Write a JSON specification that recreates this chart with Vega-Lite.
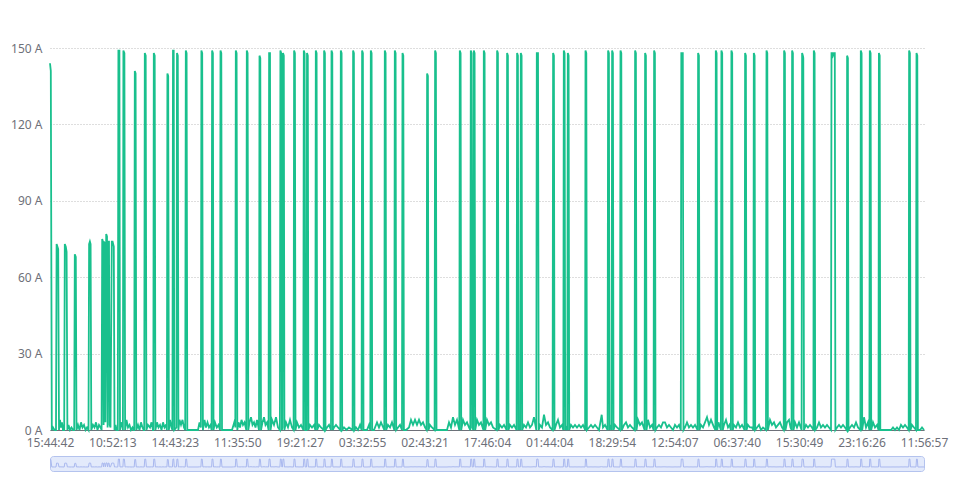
{
"$schema": "https://vega.github.io/schema/vega-lite/v6.json",
"padding": {"left": 10, "top": 42, "right": 6, "bottom": 8},
"background": "white",
"bounds": "flush",
"spacing": 26,
"config": {"font": "Noto Sans", "axis": {"labelFont": "Noto Sans", "labelFontSize": 12, "labelColor": "#6e7079", "title": null}},
"datasets": {"s": [
{"t":0,"a":144},{"t":0.8,"a":141},{"t":1.8,"a":0},{"t":3,"a":1},{"t":4.5,"a":0},
{"t":6,"a":0},{"t":6.6,"a":73},{"t":7.4,"a":72},{"t":8.2,"a":71},{"t":9,"a":0},{"t":10,"a":4},{"t":11,"a":1},{"t":12,"a":3},{"t":13,"a":0},
{"t":14.2,"a":0},{"t":14.8,"a":73},{"t":15.8,"a":72},{"t":16.6,"a":70},{"t":17.4,"a":0},{"t":18.5,"a":2},{"t":20,"a":0},{"t":21.5,"a":1},{"t":23,"a":0},
{"t":24.2,"a":0},{"t":24.8,"a":69},{"t":25.8,"a":68},{"t":26.5,"a":0},{"t":28,"a":2},{"t":29.5,"a":0},{"t":31,"a":3},{"t":32.5,"a":1},{"t":34,"a":2},{"t":35.5,"a":0},{"t":37,"a":1},
{"t":38.5,"a":0},{"t":39.1,"a":73},{"t":39.9,"a":74},{"t":40.6,"a":73},{"t":41.3,"a":0},{"t":43,"a":2},{"t":44.5,"a":1},{"t":46,"a":3},{"t":47.5,"a":0},{"t":49,"a":2},{"t":50.5,"a":1},
{"t":51.6,"a":0},{"t":52.2,"a":75},{"t":53,"a":74},{"t":53.6,"a":2},{"t":54,"a":74},{"t":54.8,"a":73},{"t":55.4,"a":3},{"t":56.2,"a":77},{"t":57,"a":76},{"t":57.6,"a":1},{"t":58.3,"a":74},{"t":59,"a":74},{"t":59.6,"a":2},{"t":60.5,"a":1},{"t":61.8,"a":74},{"t":62.6,"a":74},{"t":63.2,"a":73},{"t":63.8,"a":72},{"t":64.5,"a":0},{"t":65.5,"a":2},{"t":66.5,"a":0},
{"t":67.8,"a":0},{"t":68.4,"a":149},{"t":69.4,"a":149},{"t":70,"a":0},{"t":71,"a":3},{"t":72.5,"a":1},
{"t":72.9,"a":0},{"t":73.4,"a":149},{"t":74.4,"a":148},{"t":75.1,"a":0},{"t":76.5,"a":4},{"t":78,"a":1},{"t":79.5,"a":2},{"t":81,"a":0},{"t":82.5,"a":1},{"t":83.5,"a":0},
{"t":84.2,"a":0},{"t":84.8,"a":141},{"t":85.6,"a":140},{"t":86.3,"a":0},{"t":88,"a":2},{"t":89.5,"a":0},{"t":91,"a":3},{"t":92.5,"a":1},{"t":93.7,"a":0},
{"t":94.2,"a":0},{"t":94.8,"a":148},{"t":95.7,"a":147},{"t":96.4,"a":0},{"t":98,"a":2},{"t":100,"a":1},{"t":101.5,"a":3},{"t":103,"a":0},
{"t":103.3,"a":0},{"t":103.8,"a":148},{"t":104.7,"a":147},{"t":105.4,"a":0},{"t":107,"a":3},{"t":108.5,"a":1},{"t":110,"a":2},{"t":111.5,"a":0},{"t":113,"a":3},{"t":114.5,"a":1},{"t":116,"a":2},
{"t":116.9,"a":0},{"t":117.4,"a":140},{"t":118.2,"a":139},{"t":118.9,"a":0},{"t":120,"a":4},{"t":121.5,"a":1},
{"t":122.4,"a":0},{"t":123,"a":149},{"t":123.7,"a":149},{"t":124.3,"a":0},
{"t":126.4,"a":1},{"t":127,"a":148},{"t":127.8,"a":147},{"t":128.4,"a":0},{"t":129.5,"a":4},{"t":131,"a":2},{"t":132.5,"a":4},{"t":134,"a":1},
{"t":135.2,"a":0},{"t":135.8,"a":149},{"t":136.6,"a":148},{"t":137.3,"a":0},{"t":138.5,"a":0},{"t":141,"a":0},{"t":145,"a":0},{"t":148,"a":0},{"t":149.5,"a":3},
{"t":150.9,"a":1},{"t":151.4,"a":149},{"t":152.2,"a":148},{"t":152.9,"a":0},
{"t":154.5,"a":4},{"t":156,"a":1},{"t":157.5,"a":3},{"t":159,"a":1},{"t":160.5,"a":2},{"t":161.6,"a":0},{"t":162.1,"a":149},{"t":162.9,"a":148},{"t":163.5,"a":0},
{"t":165,"a":3},{"t":166.8,"a":1},{"t":168.5,"a":2},{"t":170,"a":0},{"t":170.5,"a":149},{"t":171.3,"a":148},{"t":172,"a":0},{"t":174,"a":0},{"t":178,"a":0},{"t":182,"a":0},{"t":183.5,"a":2},{"t":185,"a":4},
{"t":185.3,"a":1},{"t":185.8,"a":149},{"t":186.6,"a":148},{"t":187.3,"a":0},{"t":188.5,"a":3},{"t":190,"a":1},{"t":191.5,"a":4},{"t":193,"a":2},{"t":194.5,"a":3},{"t":196.3,"a":0},
{"t":196.8,"a":149},{"t":197.6,"a":148},{"t":198.3,"a":0},{"t":199.5,"a":3},{"t":201,"a":5},{"t":202.5,"a":2},{"t":204,"a":3},{"t":205.5,"a":1},{"t":207,"a":4},{"t":209,"a":0},
{"t":209.5,"a":147},{"t":210.3,"a":146},{"t":211,"a":0},{"t":212.5,"a":3},{"t":214,"a":5},{"t":215.5,"a":2},{"t":217,"a":3},{"t":218.6,"a":0},
{"t":219.1,"a":148},{"t":220,"a":148},{"t":220.6,"a":0},{"t":222,"a":4},{"t":224,"a":2},{"t":226,"a":5},{"t":228,"a":1},{"t":229.9,"a":0},
{"t":230.4,"a":149},{"t":231.2,"a":148},{"t":231.9,"a":0},{"t":232.4,"a":1},{"t":233,"a":148},{"t":233.8,"a":147},{"t":234.4,"a":0},
{"t":236,"a":3},{"t":238,"a":1},{"t":240,"a":4},{"t":242,"a":1},{"t":243.6,"a":0},{"t":244.1,"a":149},{"t":244.9,"a":148},{"t":245.5,"a":0},
{"t":247,"a":3},{"t":249,"a":1},{"t":251,"a":2},{"t":253.3,"a":0},{"t":253.8,"a":149},{"t":254.6,"a":148},{"t":255.2,"a":0},
{"t":256.5,"a":0},{"t":257,"a":148},{"t":257.8,"a":147},{"t":258.4,"a":0},{"t":260,"a":2},{"t":262,"a":1},{"t":264,"a":2},{"t":265.3,"a":0},
{"t":265.8,"a":149},{"t":266.6,"a":148},{"t":267.2,"a":0},{"t":269,"a":2},{"t":271,"a":1},{"t":273.7,"a":0},{"t":274.1,"a":149},{"t":274.9,"a":148},{"t":275.5,"a":0},
{"t":277,"a":1},{"t":279,"a":2},{"t":281,"a":0},{"t":281.5,"a":149},{"t":282.3,"a":148},{"t":282.9,"a":0},{"t":284,"a":1},{"t":286,"a":2},{"t":288,"a":1},{"t":290.3,"a":0},
{"t":290.8,"a":149},{"t":291.6,"a":148},{"t":292.2,"a":0},{"t":294,"a":1},{"t":296.5,"a":0},{"t":299,"a":1},{"t":302.6,"a":0},
{"t":303.1,"a":149},{"t":303.9,"a":148},{"t":304.5,"a":0},{"t":306,"a":1},{"t":308,"a":0},{"t":310,"a":2},{"t":311.6,"a":0},
{"t":312.1,"a":149},{"t":312.9,"a":148},{"t":313.5,"a":0},{"t":315,"a":0},{"t":317,"a":0},{"t":319,"a":2},{"t":320.3,"a":0},
{"t":320.8,"a":149},{"t":321.6,"a":148},{"t":322.2,"a":0},{"t":324,"a":0},{"t":327,"a":3},{"t":329,"a":1},{"t":331,"a":3},{"t":334.3,"a":0},
{"t":334.8,"a":149},{"t":335.6,"a":148},{"t":336.2,"a":0},{"t":338,"a":2},{"t":340,"a":1},{"t":342,"a":3},{"t":344.3,"a":0},
{"t":344.8,"a":149},{"t":345.6,"a":148},{"t":346.2,"a":0},{"t":348,"a":1},{"t":350,"a":2},{"t":352,"a":0},
{"t":352.5,"a":148},{"t":353.3,"a":147},{"t":353.9,"a":0},{"t":356,"a":0},{"t":359,"a":1},{"t":361,"a":4},{"t":363,"a":2},{"t":365,"a":4},{"t":367,"a":2},{"t":369,"a":4},{"t":371,"a":2},{"t":373,"a":3},{"t":375,"a":1},{"t":376.6,"a":0},
{"t":377.1,"a":140},{"t":377.9,"a":139},{"t":378.5,"a":0},{"t":380,"a":2},{"t":382,"a":1},{"t":384.6,"a":0},
{"t":385.1,"a":149},{"t":385.9,"a":148},{"t":386.5,"a":0},{"t":389,"a":0},{"t":393,"a":0},{"t":397,"a":0},{"t":399,"a":3},{"t":401,"a":1},{"t":403,"a":5},{"t":405,"a":2},{"t":407,"a":4},{"t":409.3,"a":0},
{"t":409.8,"a":149},{"t":410.6,"a":148},{"t":411.2,"a":0},{"t":413,"a":4},{"t":415,"a":2},{"t":417,"a":3},{"t":419,"a":1},{"t":420.3,"a":0},
{"t":420.8,"a":149},{"t":421.6,"a":148},{"t":422.2,"a":1},{"t":423.3,"a":0},{"t":423.8,"a":149},{"t":424.6,"a":148},{"t":425.2,"a":0},
{"t":427,"a":4},{"t":429,"a":2},{"t":431,"a":3},{"t":433.4,"a":0},{"t":433.8,"a":149},{"t":434.6,"a":148},{"t":435.2,"a":0},
{"t":437,"a":4},{"t":439,"a":2},{"t":441,"a":3},{"t":443,"a":1},{"t":446.6,"a":0},{"t":447.1,"a":149},{"t":447.9,"a":148},{"t":448.5,"a":0},
{"t":450,"a":2},{"t":452,"a":1},{"t":454,"a":2},{"t":456.6,"a":0},{"t":457.1,"a":148},{"t":457.9,"a":147},{"t":458.5,"a":0},
{"t":460,"a":2},{"t":462,"a":1},{"t":464,"a":2},{"t":466.6,"a":0},{"t":467.1,"a":148},{"t":467.9,"a":147},{"t":468.5,"a":0},{"t":469.5,"a":2},{"t":470.3,"a":0},{"t":470.8,"a":148},{"t":471.6,"a":147},{"t":472.2,"a":0},
{"t":474,"a":2},{"t":476,"a":1},{"t":478,"a":3},{"t":480,"a":1},{"t":482,"a":2},{"t":484,"a":5},{"t":486.3,"a":0},{"t":486.8,"a":148},{"t":488,"a":148},{"t":488.7,"a":0},
{"t":490,"a":2},{"t":492,"a":1},{"t":494,"a":6},{"t":496,"a":2},{"t":498,"a":3},{"t":500,"a":1},{"t":502.6,"a":0},{"t":503.1,"a":148},{"t":503.9,"a":147},{"t":504.5,"a":0},
{"t":506,"a":2},{"t":508,"a":4},{"t":510,"a":1},{"t":512,"a":2},{"t":513.3,"a":0},{"t":513.8,"a":149},{"t":514.6,"a":148},{"t":515.2,"a":0},{"t":516,"a":1},{"t":517.3,"a":0},{"t":517.8,"a":148},{"t":518.6,"a":147},{"t":519.2,"a":0},
{"t":521,"a":2},{"t":523,"a":1},{"t":525,"a":2},{"t":527,"a":1},{"t":529,"a":2},{"t":531,"a":1},{"t":533,"a":2},{"t":535.1,"a":0},{"t":535.5,"a":149},{"t":536.3,"a":148},{"t":536.9,"a":0},
{"t":539,"a":1},{"t":541,"a":2},{"t":543,"a":1},{"t":545,"a":2},{"t":547,"a":1},{"t":549,"a":0},{"t":551.7,"a":6},{"t":553,"a":1},{"t":555,"a":2},{"t":557.6,"a":0},
{"t":558.1,"a":149},{"t":558.9,"a":148},{"t":559.5,"a":0},{"t":560.5,"a":2},{"t":561.6,"a":0},{"t":562.1,"a":149},{"t":562.9,"a":148},{"t":563.5,"a":0},
{"t":565,"a":2},{"t":567,"a":1},{"t":570,"a":0},{"t":570.5,"a":149},{"t":571.3,"a":148},{"t":571.9,"a":0},
{"t":574,"a":2},{"t":576,"a":3},{"t":578,"a":1},{"t":580,"a":2},{"t":582,"a":1},{"t":584.6,"a":0},{"t":585.1,"a":149},{"t":585.9,"a":148},{"t":586.5,"a":0},
{"t":588,"a":4},{"t":590,"a":2},{"t":592,"a":3},{"t":594.6,"a":0},{"t":595.1,"a":148},{"t":595.9,"a":147},{"t":596.5,"a":0},
{"t":598,"a":4},{"t":600,"a":1},{"t":602,"a":2},{"t":603.6,"a":0},{"t":604.1,"a":149},{"t":604.9,"a":148},{"t":605.5,"a":0},
{"t":607,"a":1},{"t":609,"a":2},{"t":611,"a":1},{"t":613,"a":3},{"t":615,"a":3},{"t":617,"a":1},{"t":619,"a":2},{"t":621,"a":1},{"t":623,"a":0},{"t":625,"a":2},{"t":627,"a":1},{"t":629,"a":2},{"t":630.8,"a":0},
{"t":631.3,"a":148},{"t":632.8,"a":148},{"t":633.5,"a":0},{"t":635,"a":1},{"t":637,"a":3},{"t":639,"a":1},{"t":641,"a":2},{"t":643,"a":1},{"t":645,"a":2},{"t":647.6,"a":0},
{"t":648.1,"a":148},{"t":648.9,"a":147},{"t":649.5,"a":0},{"t":651,"a":2},{"t":653,"a":1},{"t":655,"a":3},{"t":657,"a":5},{"t":659,"a":2},{"t":661,"a":4},{"t":664,"a":1},{"t":665.4,"a":0},
{"t":665.8,"a":149},{"t":666.6,"a":148},{"t":667.2,"a":0},{"t":668.5,"a":3},{"t":670.9,"a":0},{"t":671.4,"a":149},{"t":672.2,"a":148},{"t":672.8,"a":0},
{"t":674,"a":2},{"t":676,"a":4},{"t":678,"a":1},{"t":679.5,"a":2},{"t":680.9,"a":0},{"t":681.4,"a":149},{"t":682.2,"a":148},{"t":682.8,"a":0},
{"t":684,"a":2},{"t":686,"a":1},{"t":688,"a":3},{"t":690,"a":1},{"t":692,"a":2},{"t":694.6,"a":0},{"t":695.1,"a":148},{"t":695.9,"a":147},{"t":696.5,"a":0},
{"t":698,"a":2},{"t":700,"a":1},{"t":702,"a":1},{"t":703.4,"a":0},{"t":703.8,"a":148},{"t":704.6,"a":147},{"t":705.2,"a":0},
{"t":707,"a":1},{"t":709,"a":2},{"t":711,"a":0},{"t":713,"a":1},{"t":716,"a":0},{"t":716.5,"a":149},{"t":717.3,"a":148},{"t":717.9,"a":0},
{"t":720,"a":4},{"t":722,"a":2},{"t":724,"a":3},{"t":726,"a":1},{"t":728,"a":2},{"t":730,"a":3},{"t":732,"a":1},{"t":733.7,"a":0},{"t":734.1,"a":149},{"t":734.9,"a":148},{"t":735.5,"a":0},
{"t":737,"a":3},{"t":739,"a":4},{"t":740.5,"a":1},{"t":741.6,"a":0},{"t":742.1,"a":149},{"t":742.9,"a":148},{"t":743.5,"a":0},
{"t":745,"a":3},{"t":747,"a":1},{"t":749,"a":3},{"t":751.6,"a":0},{"t":752.1,"a":148},{"t":752.9,"a":147},{"t":753.3,"a":146},{"t":754,"a":0},
{"t":756,"a":2},{"t":758,"a":1},{"t":760,"a":2},{"t":762,"a":1},{"t":763.4,"a":0},{"t":763.8,"a":149},{"t":764.6,"a":148},{"t":765.2,"a":0},
{"t":767,"a":1},{"t":769,"a":3},{"t":771,"a":1},{"t":773,"a":2},{"t":775,"a":1},{"t":777,"a":2},{"t":779,"a":1},{"t":781,"a":0},{"t":781.5,"a":148},{"t":782.5,"a":148},{"t":783,"a":147},{"t":784,"a":148},{"t":784.8,"a":148},{"t":785.4,"a":0},
{"t":787,"a":1},{"t":789,"a":2},{"t":791,"a":1},{"t":793,"a":2},{"t":795,"a":1},{"t":796.7,"a":0},{"t":797.1,"a":147},{"t":797.9,"a":146},{"t":798.5,"a":0},
{"t":800,"a":1},{"t":802,"a":2},{"t":804,"a":1},{"t":806,"a":3},{"t":808,"a":1},{"t":810.4,"a":0},{"t":810.8,"a":149},{"t":811.6,"a":148},{"t":812.2,"a":0},
{"t":814,"a":5},{"t":816,"a":1},{"t":818,"a":3},{"t":819.4,"a":0},{"t":819.8,"a":149},{"t":820.6,"a":148},{"t":821.2,"a":0},
{"t":823,"a":3},{"t":825,"a":1},{"t":827,"a":2},{"t":828.5,"a":0},{"t":828.9,"a":148},{"t":829.7,"a":147},{"t":830.3,"a":0},
{"t":833,"a":0},{"t":837,"a":0},{"t":841,"a":0},{"t":843,"a":1},{"t":845,"a":0},{"t":847,"a":1},{"t":849,"a":0},{"t":851,"a":2},{"t":853,"a":1},{"t":855,"a":2},{"t":857,"a":1},{"t":858.7,"a":0},
{"t":859.1,"a":149},{"t":859.9,"a":148},{"t":860.5,"a":0},{"t":862,"a":2},{"t":864,"a":1},{"t":866,"a":0},{"t":866.5,"a":148},{"t":867.3,"a":147},{"t":867.9,"a":0},
{"t":870,"a":0},{"t":872,"a":1},{"t":874,"a":0}
]},
"vconcat": [
{
 "width": 874, "height": 382,
 "data": {"name": "s"},
 "view": {"stroke": null},
 "mark": {"type": "line", "color": "#19c08d", "strokeWidth": 1.8, "interpolate": "linear"},
 "encoding": {
  "x": {"field": "t", "type": "quantitative", "scale": {"domain": [0, 874], "nice": false, "zero": false},
        "axis": {"values": [0, 62.4286, 124.8571, 187.2857, 249.7143, 312.1429, 374.5714, 437, 499.4286, 561.8571, 624.2857, 686.7143, 749.1429, 811.5714, 874],
                 "labelExpr": "['15:44:42','10:52:13','14:43:23','11:35:50','19:21:27','03:32:55','02:43:21','17:46:04','01:44:04','18:29:54','12:54:07','06:37:40','15:30:49','23:16:26','11:56:57'][round(datum.value/62.4286)]",
                 "grid": false, "ticks": false, "domain": true, "domainColor": "#6e7079", "labelPadding": 7, "labelOverlap": false, "labelFlush": false, "labelBound": false}},
  "y": {"field": "a", "type": "quantitative", "scale": {"domain": [0, 150], "nice": false},
        "axis": {"values": [0, 30, 60, 90, 120, 150], "labelExpr": "datum.value + ' A'", "grid": true, "gridColor": "#bdbdbd", "gridDash": [1, 2], "gridWidth": 1, "domain": false, "ticks": false, "labelPadding": 8}}
 }
},
{
 "width": 874, "height": 15,
 "data": {"name": "s"},
 "view": {"fill": "#e3eafb", "stroke": "#b4c3ee", "cornerRadius": 3},
 "mark": {"type": "line", "color": "#a9b8ef", "strokeWidth": 1},
 "encoding": {
  "x": {"field": "t", "type": "quantitative", "scale": {"domain": [0, 874], "nice": false, "zero": false}, "axis": null},
  "y": {"field": "a", "type": "quantitative", "scale": {"domain": [-75, 206], "nice": false, "zero": false}, "axis": null}
 }
}
],
"resolve": {"scale": {"x": "independent", "y": "independent"}}
}
